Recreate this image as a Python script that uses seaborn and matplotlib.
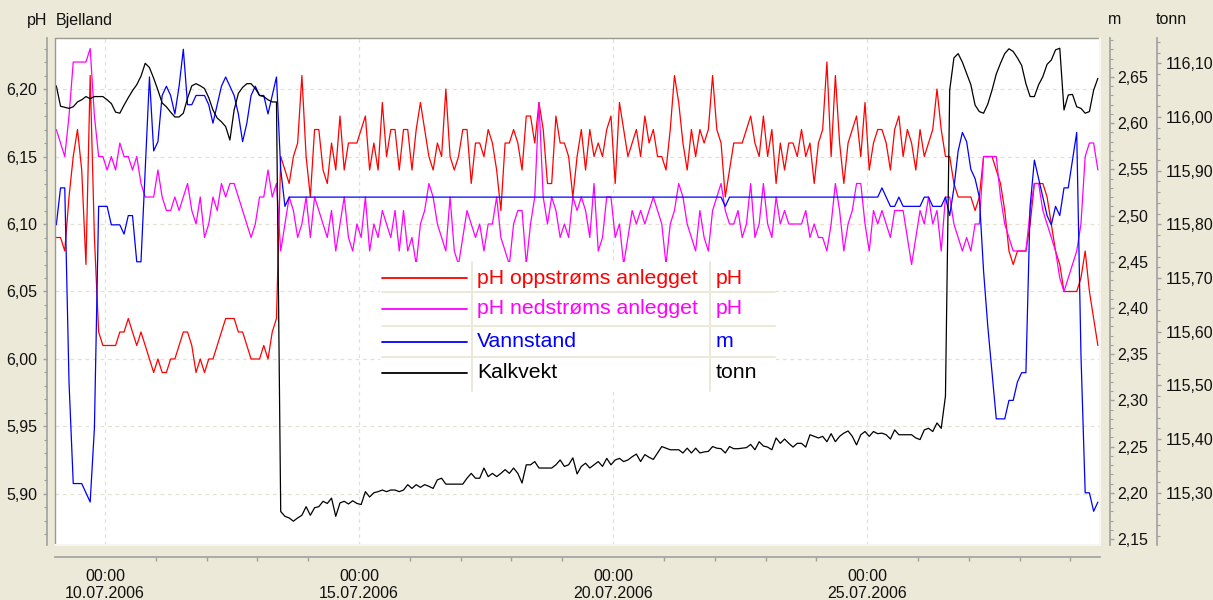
import numpy as np
import pandas as pd
import matplotlib
matplotlib.use("Agg")
import matplotlib.pyplot as plt
import matplotlib.dates as mdates
from matplotlib.ticker import MultipleLocator, FuncFormatter
from matplotlib.lines import Line2D
from matplotlib.patches import Rectangle
import seaborn as sns

# ---------------- data (2-hour samples from 09.07.2006 01:00) ----------------
start_time = "2006-07-09 00:00"
sample_hours = np.arange(1, 494, 2)

ph_oppstroms = [
    6.09, 6.09, 6.08, 6.12, 6.15, 6.17, 6.14, 6.07, 6.21, 6.09,
    6.02, 6.01, 6.01, 6.01, 6.01, 6.02, 6.02, 6.03, 6.02, 6.01,
    6.02, 6.01, 6.00, 5.99, 6.00, 5.99, 5.99, 6.00, 6.00, 6.01,
    6.02, 6.02, 6.01, 5.99, 6.00, 5.99, 6.00, 6.00, 6.01, 6.02,
    6.03, 6.03, 6.03, 6.02, 6.02, 6.01, 6.00, 6.00, 6.00, 6.01,
    6.00, 6.02, 6.03, 6.15, 6.14, 6.13, 6.15, 6.16, 6.21, 6.15,
    6.12, 6.17, 6.17, 6.14, 6.13, 6.16, 6.14, 6.18, 6.14, 6.16,
    6.16, 6.16, 6.17, 6.18, 6.14, 6.16, 6.14, 6.19, 6.15, 6.17,
    6.17, 6.14,
    6.17, 6.17, 6.14, 6.17, 6.19, 6.17, 6.15, 6.14, 6.16, 6.15,
    6.20, 6.15, 6.14, 6.15, 6.17, 6.17, 6.13, 6.16, 6.16, 6.15,
    6.17, 6.16, 6.14, 6.11, 6.16, 6.16, 6.17, 6.16, 6.14, 6.18,
    6.18, 6.16, 6.19, 6.17, 6.13, 6.13, 6.18, 6.16, 6.16, 6.15,
    6.12, 6.15, 6.17, 6.14, 6.17, 6.15, 6.16, 6.15, 6.17, 6.18,
    6.13, 6.19, 6.17, 6.15, 6.16, 6.17, 6.15, 6.18, 6.16, 6.17,
    6.15, 6.15, 6.14, 6.17, 6.21, 6.19, 6.16, 6.14, 6.17, 6.15,
    6.17, 6.16, 6.17, 6.21, 6.17, 6.16, 6.12, 6.14, 6.16, 6.16,
    6.16, 6.17,
    6.18, 6.16, 6.15, 6.18, 6.15, 6.17, 6.13, 6.16, 6.14, 6.16,
    6.16, 6.15, 6.17, 6.15, 6.16, 6.13, 6.16, 6.17, 6.22, 6.15,
    6.21, 6.16, 6.13, 6.16, 6.17, 6.18, 6.15, 6.19, 6.14, 6.16,
    6.17, 6.17, 6.16, 6.14, 6.17, 6.18, 6.15, 6.17, 6.16, 6.14,
    6.17, 6.15, 6.16, 6.17, 6.20, 6.17, 6.15, 6.15, 6.13, 6.12,
    6.12, 6.12, 6.12, 6.11, 6.12, 6.15, 6.15, 6.15, 6.14, 6.13,
    6.11, 6.08, 6.07, 6.08, 6.08, 6.08, 6.10, 6.13, 6.13, 6.13,
    6.12, 6.10, 6.08, 6.07, 6.05, 6.05, 6.05, 6.05, 6.06, 6.08,
    6.05, 6.03, 6.01,
]

ph_nedstroms = [
    6.17, 6.16, 6.15, 6.18, 6.22, 6.22, 6.22, 6.22, 6.23, 6.18,
    6.15, 6.15, 6.14, 6.15, 6.14, 6.16, 6.15, 6.15, 6.14, 6.15,
    6.13, 6.12, 6.12, 6.12, 6.14, 6.12, 6.11, 6.11, 6.12, 6.11,
    6.12, 6.13, 6.11, 6.10, 6.12, 6.09, 6.10, 6.12, 6.11, 6.13,
    6.12, 6.13, 6.13, 6.12, 6.11, 6.10, 6.09, 6.10, 6.12, 6.12,
    6.14, 6.12, 6.13, 6.08, 6.10, 6.12, 6.11, 6.09, 6.10, 6.12,
    6.09, 6.12, 6.11, 6.10, 6.09, 6.11, 6.08, 6.10, 6.12, 6.09,
    6.08, 6.10, 6.09, 6.12, 6.08, 6.10, 6.09, 6.11, 6.10, 6.09,
    6.11, 6.08,
    6.11, 6.08, 6.09, 6.07, 6.10, 6.11, 6.13, 6.12, 6.10, 6.09,
    6.08, 6.12, 6.08, 6.07, 6.09, 6.11, 6.10, 6.09, 6.10, 6.08,
    6.10, 6.10, 6.12, 6.09, 6.08, 6.07, 6.10, 6.11, 6.11, 6.07,
    6.10, 6.12, 6.19, 6.12, 6.10, 6.12, 6.11, 6.09, 6.10, 6.09,
    6.12, 6.11, 6.12, 6.11, 6.09, 6.13, 6.08, 6.09, 6.12, 6.12,
    6.09, 6.10, 6.07, 6.09, 6.11, 6.10, 6.11, 6.10, 6.11, 6.12,
    6.11, 6.10, 6.07, 6.10, 6.11, 6.13, 6.12, 6.10, 6.09, 6.08,
    6.11, 6.09, 6.08, 6.11, 6.12, 6.13, 6.11, 6.10, 6.10, 6.11,
    6.09, 6.10,
    6.13, 6.09, 6.10, 6.13, 6.10, 6.09, 6.12, 6.10, 6.11, 6.10,
    6.10, 6.10, 6.10, 6.11, 6.09, 6.10, 6.09, 6.09, 6.08, 6.10,
    6.13, 6.11, 6.08, 6.10, 6.11, 6.13, 6.13, 6.10, 6.08, 6.11,
    6.10, 6.11, 6.10, 6.09, 6.11, 6.11, 6.11, 6.09, 6.07, 6.09,
    6.11, 6.10, 6.12, 6.10, 6.11, 6.08, 6.12, 6.12, 6.10, 6.09,
    6.08, 6.09, 6.08, 6.10, 6.10, 6.15, 6.15, 6.15, 6.15, 6.12,
    6.10, 6.09, 6.08, 6.08, 6.08, 6.08, 6.11, 6.13, 6.13, 6.11,
    6.10, 6.09, 6.08, 6.06, 6.05, 6.06, 6.07, 6.08, 6.10, 6.15,
    6.16, 6.16, 6.14,
]

vannstand = [
    2.49, 2.53, 2.53, 2.32, 2.21, 2.21, 2.21, 2.20, 2.19, 2.27,
    2.51, 2.51, 2.51, 2.49, 2.49, 2.49, 2.48, 2.50, 2.50, 2.45,
    2.45, 2.55, 2.65, 2.57, 2.58, 2.63, 2.64, 2.63, 2.61, 2.64,
    2.68, 2.62, 2.62, 2.63, 2.63, 2.63, 2.62, 2.60, 2.62, 2.64,
    2.65, 2.64, 2.63, 2.61, 2.58, 2.60, 2.63, 2.64, 2.63, 2.63,
    2.61, 2.63, 2.65, 2.55, 2.51, 2.52,
    2.52, 2.52, 2.52, 2.52, 2.52, 2.52, 2.52, 2.52, 2.52, 2.52,
    2.52, 2.52, 2.52, 2.52, 2.52, 2.52, 2.52, 2.52, 2.52, 2.52,
    2.52, 2.52, 2.52, 2.52, 2.52, 2.52, 2.52, 2.52, 2.52, 2.52,
    2.52, 2.52, 2.52, 2.52, 2.52, 2.52, 2.52, 2.52, 2.52, 2.52,
    2.52, 2.52, 2.52, 2.52, 2.52, 2.52, 2.52, 2.52, 2.52, 2.52,
    2.52, 2.52, 2.52, 2.52, 2.52, 2.52, 2.52, 2.52, 2.52, 2.52,
    2.52, 2.52, 2.52, 2.52, 2.52, 2.52, 2.52, 2.52, 2.52, 2.52,
    2.52, 2.52, 2.52, 2.52, 2.52, 2.52, 2.52, 2.52, 2.52, 2.52,
    2.52, 2.52, 2.52, 2.52, 2.52, 2.52, 2.52, 2.52, 2.52, 2.52,
    2.52, 2.52, 2.52, 2.52, 2.52, 2.52, 2.52, 2.52, 2.52, 2.52,
    2.52, 2.52, 2.51, 2.52, 2.52, 2.52, 2.52, 2.52, 2.52, 2.52,
    2.52, 2.52, 2.52, 2.52, 2.52, 2.52, 2.52, 2.52, 2.52, 2.52,
    2.52, 2.52, 2.52, 2.52, 2.52, 2.52, 2.52, 2.52, 2.52, 2.52,
    2.52, 2.52, 2.52, 2.52, 2.52, 2.52, 2.52, 2.52, 2.52,
    2.53, 2.52, 2.51, 2.51, 2.52, 2.51, 2.51, 2.51, 2.51, 2.51,
    2.52, 2.52, 2.51, 2.51, 2.51, 2.52, 2.50, 2.53, 2.57, 2.59,
    2.58, 2.55, 2.54, 2.52, 2.44, 2.38, 2.33, 2.28, 2.28, 2.28,
    2.30, 2.30, 2.32, 2.33, 2.33, 2.51, 2.56, 2.54, 2.52, 2.50,
    2.49, 2.51, 2.50, 2.53, 2.53, 2.56, 2.59, 2.35, 2.20, 2.20,
    2.18, 2.19,
]

kalkvekt = [
    116.058, 116.020, 116.018, 116.016, 116.019, 116.028, 116.032, 116.038, 116.034, 116.038,
    116.038, 116.038, 116.032, 116.025, 116.009, 116.007, 116.022, 116.036, 116.049, 116.060,
    116.076, 116.100, 116.092, 116.072, 116.050, 116.026, 116.019, 116.009, 116.000, 116.000,
    116.007, 116.035, 116.058, 116.062, 116.058, 116.053, 116.036, 116.013, 115.998, 115.991,
    115.982, 115.957, 116.013, 116.044, 116.055, 116.062, 116.062, 116.053, 116.040, 116.038,
    116.032, 116.028, 116.028, 115.265, 115.256, 115.253, 115.247, 115.253, 115.258, 115.274,
    115.258, 115.272, 115.274, 115.284, 115.280, 115.290, 115.256, 115.281, 115.284, 115.279,
    115.285, 115.280, 115.278, 115.302, 115.292, 115.300, 115.302, 115.305, 115.302, 115.305,
    115.305, 115.302,
    115.305, 115.315, 115.308, 115.315, 115.310, 115.315, 115.312, 115.308, 115.324, 115.327,
    115.316, 115.316, 115.316, 115.316, 115.316, 115.327, 115.336, 115.327, 115.327, 115.346,
    115.330, 115.336, 115.330, 115.336, 115.343, 115.336, 115.346, 115.336, 115.318, 115.352,
    115.352, 115.358, 115.346, 115.346, 115.346, 115.346, 115.352, 115.361, 115.349, 115.352,
    115.365, 115.335, 115.349, 115.355, 115.346, 115.352, 115.358, 115.349, 115.364, 115.352,
    115.361, 115.364, 115.358, 115.361, 115.367, 115.372, 115.358, 115.371, 115.366, 115.362,
    115.374, 115.386, 115.383, 115.380, 115.380, 115.380, 115.374, 115.383, 115.374, 115.383,
    115.374, 115.376, 115.377, 115.386, 115.383, 115.382, 115.374, 115.386, 115.382, 115.382,
    115.383, 115.384,
    115.390, 115.380, 115.395, 115.387, 115.385, 115.380, 115.402, 115.392, 115.400, 115.392,
    115.385, 115.392, 115.392, 115.385, 115.408, 115.405, 115.402, 115.405, 115.395, 115.410,
    115.395, 115.405, 115.411, 115.415, 115.405, 115.389, 115.408, 115.414, 115.405, 115.414,
    115.410, 115.411, 115.408, 115.400, 115.417, 115.408, 115.408, 115.408, 115.408, 115.402,
    115.399, 115.417, 115.420, 115.414, 115.430, 115.420, 115.480, 116.050, 116.110, 116.118,
    116.102, 116.081, 116.060, 116.022, 116.010, 116.007, 116.024, 116.050, 116.080, 116.100,
    116.118, 116.127, 116.122, 116.110, 116.096, 116.062, 116.038, 116.038, 116.060, 116.075,
    116.098, 116.106, 116.125, 116.128, 116.013, 116.041, 116.042, 116.019, 116.016, 116.007,
    116.010, 116.050, 116.072,
]

series_names = ["pH oppstrøms anlegget", "pH nedstrøms anlegget", "Vannstand", "Kalkvekt"]
series_units = ["pH", "pH", "m", "tonn"]
series_colors = ["#ff0000", "#ff00ff", "#0000ff", "#000000"]
station = "Bjelland"

times = pd.Timestamp(start_time) + pd.to_timedelta(sample_hours, unit="h")
df = pd.DataFrame({"tid": times, "opp": ph_oppstroms, "ned": ph_nedstroms,
                   "vann": vannstand, "kalk": kalkvekt})

# ---------------- styling ----------------
sns.set_theme(style="white")
plt.rcParams['font.family'] = ['Liberation Sans', 'DejaVu Sans']
BG = "#ece9d8"
AXC = "#a0a0a0"
GRIDC = "#e4e1d0"
TXT = "#111111"
TICK_FS = 11.5

W, H = 1213, 600
fig = plt.figure(figsize=(W / 100, H / 100), dpi=100, facecolor=BG)


def fx(x):
    return x / W


def fy(y):
    return 1 - y / H


PX = 0.72  # points per pixel
L, R, T, B = 55, 1100, 38, 545
ax = fig.add_axes([fx(L), fy(B), (R - L) / W, (B - T) / H])
ax.set_facecolor("white")
ax_m = ax.twinx()
ax_t = ax.twinx()

LW = 0.9
sns.lineplot(data=df, x="tid", y="opp", ax=ax, color=series_colors[0], lw=LW,
             estimator=None, legend=False)
sns.lineplot(data=df, x="tid", y="ned", ax=ax, color=series_colors[1], lw=LW,
             estimator=None, legend=False)
sns.lineplot(data=df, x="tid", y="vann", ax=ax_m, color=series_colors[2], lw=LW,
             estimator=None, legend=False)
sns.lineplot(data=df, x="tid", y="kalk", ax=ax_t, color=series_colors[3], lw=LW,
             estimator=None, legend=False)

for a in (ax, ax_m, ax_t):
    a.set_xlabel("")
    a.set_ylabel("")

t0 = pd.Timestamp(start_time)
ax.set_xlim(t0 + pd.Timedelta(minutes=23), t0 + pd.Timedelta(hours=494))
ax.set_ylim(5.8622, 6.2378)
ax_m.set_ylim(2.1435, 2.6922)
ax_t.set_ylim(115.2026, 116.1471)

comma = FuncFormatter(lambda v, p: f"{v:.2f}".replace(".", ","))

# x axis
ax.xaxis.set_major_locator(mdates.DayLocator(bymonthday=[10, 15, 20, 25]))
ax.xaxis.set_minor_locator(mdates.DayLocator())
ax.xaxis.set_major_formatter(mdates.DateFormatter("%H:%M\n%d.%m.%Y"))

# y axes
ax.yaxis.set_major_locator(MultipleLocator(0.05))
ax.yaxis.set_minor_locator(MultipleLocator(0.01))
ax.yaxis.set_major_formatter(comma)
ax_m.yaxis.set_major_locator(MultipleLocator(0.05))
ax_m.yaxis.set_minor_locator(MultipleLocator(0.01))
ax_m.yaxis.set_major_formatter(comma)
ax_t.yaxis.set_major_locator(MultipleLocator(0.10))
ax_t.yaxis.set_minor_locator(MultipleLocator(0.02))
ax_t.yaxis.set_major_formatter(comma)

# spines
for s in ("top", "right"):
    ax.spines[s].set_visible(False)
ax.spines["left"].set_position(("outward", 8 * PX))
ax.spines["bottom"].set_position(("outward", 12 * PX))
for a, off in ((ax_m, 10), (ax_t, 57)):
    for s in ("top", "left", "bottom"):
        a.spines[s].set_visible(False)
    a.spines["right"].set_position(("outward", off * PX))
for a in (ax, ax_m, ax_t):
    for s in a.spines.values():
        s.set_color(AXC)
        s.set_linewidth(1.2)

ax.tick_params(axis="y", which="major", direction="out", length=3, width=1,
               color=AXC, pad=4.0, labelsize=TICK_FS, labelcolor=TXT)
ax.tick_params(axis="y", which="minor", direction="out", length=2, width=0.8,
               color=AXC, left=True)
ax.tick_params(axis="x", which="major", direction="out", length=3, width=1,
               color=AXC, pad=5.5, labelsize=TICK_FS, labelcolor=TXT)
ax.tick_params(axis="x", which="minor", direction="out", length=3, width=1,
               color=AXC, bottom=True)
for a, pad in ((ax_m, 2.5), (ax_t, 3.0)):
    a.tick_params(axis="y", which="major", direction="out", length=3, width=1,
                  color=AXC, pad=pad, labelsize=TICK_FS, labelcolor=TXT)
    a.tick_params(axis="y", which="minor", direction="out", length=2, width=0.8,
                  color=AXC, right=True)

for lab in ax.get_xticklabels():
    lab.set_linespacing(1.2)

ax.grid(True, which="major", axis="both", color=GRIDC, linestyle=(0, (3, 3)), lw=0.9)
ax.set_axisbelow(True)

# sunken frame of plot area
fig.add_artist(Line2D([fx(L), fx(L)], [fy(B), fy(T)], color="#9c9a90", lw=1.0))
fig.add_artist(Line2D([fx(L), fx(R)], [fy(T), fy(T)], color="#9c9a90", lw=1.0))
fig.add_artist(Line2D([fx(R), fx(R)], [fy(B), fy(T)], color="#f7f6f0", lw=1.5))
fig.add_artist(Line2D([fx(L), fx(R)], [fy(B), fy(B)], color="#f7f6f0", lw=1.5))

# headers
fig.text(fx(27), fy(20), "pH", ha="left", va="center", fontsize=11.5, color=TXT)
fig.text(fx(56), fy(20), station, ha="left", va="center", fontsize=11.5, color=TXT)
fig.text(fx(1108), fy(20), series_units[2], ha="left", va="center", fontsize=11.5, color=TXT)
fig.text(fx(1156), fy(20), series_units[3], ha="left", va="center", fontsize=11.5, color=TXT)

# legend table
lx0, lx1, ly0, ly1 = 380, 776, 262, 391
fig.add_artist(Rectangle((fx(lx0), fy(ly1)), (lx1 - lx0) / W, (ly1 - ly0) / H,
                         transform=fig.transFigure, facecolor="white",
                         edgecolor="none", zorder=2))
row_y = [278, 309, 342, 373]
for yy in (292, 326, 357):
    fig.add_artist(Line2D([fx(382), fx(775)], [fy(yy), fy(yy)], color=BG,
                          lw=2 * PX, zorder=3))
for xx in (472, 710):
    fig.add_artist(Line2D([fx(xx), fx(xx)], [fy(ly1), fy(ly0)], color=BG,
                          lw=2 * PX, zorder=3))
for name, unit, col, yy in zip(series_names, series_units, series_colors, row_y):
    fig.add_artist(Line2D([fx(382), fx(467)], [fy(yy), fy(yy)], color=col,
                          lw=1.3, zorder=4))
    fig.text(fx(477), fy(yy), name, ha="left", va="center", fontsize=15.3,
             color=col, zorder=5)
    fig.text(fx(716), fy(yy), unit, ha="left", va="center", fontsize=15.3,
             color=col, zorder=5)

fig.savefig("out.png", dpi=100, facecolor=BG)
